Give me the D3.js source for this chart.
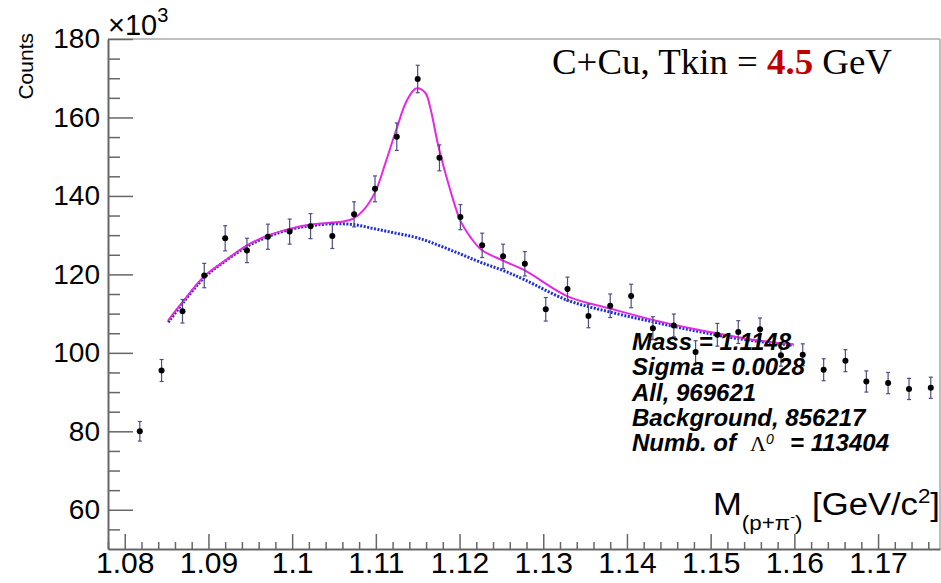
<!DOCTYPE html>
<html>
<head>
<meta charset="utf-8">
<script src="https://cdn.jsdelivr.net/npm/d3@7"></script>
<style>
  body { margin: 0; background: #fff; }
  svg { display: block; }
</style>
</head>
<body>
<svg id="chart"></svg>
<script>
// Invariant mass histogram (counts in thousands)
const massBins = [1.0818, 1.0844, 1.0869, 1.0895, 1.0920, 1.0946, 1.0971, 1.0997, 1.1022, 1.1048,
  1.1074, 1.1099, 1.1125, 1.1150, 1.1176, 1.1201, 1.1227, 1.1252, 1.1278, 1.1303,
  1.1329, 1.1354, 1.1380, 1.1405, 1.1431, 1.1456, 1.1482, 1.1508, 1.1533, 1.1559,
  1.1584, 1.1610, 1.1635, 1.1661, 1.1686, 1.1712, 1.1737, 1.1763];
const counts = [80.0, 95.5, 110.6, 119.7, 129.2, 126.1, 129.6, 130.9, 132.3, 129.8,
  135.3, 141.8, 155.1, 169.8, 149.7, 134.6, 127.4, 124.6, 122.7, 111.1,
  116.3, 109.4, 112.0, 114.5, 106.3, 107.0, 100.2, 104.6, 105.3, 106.0,
  99.4, 99.5, 95.7, 98.0, 92.7, 92.3, 90.8, 91.1];
const countErr = [2.5, 2.8, 3.0, 3.1, 3.2, 3.1, 3.2, 3.2, 3.2, 3.2,
  3.2, 3.3, 3.5, 3.5, 3.3, 3.2, 3.1, 3.1, 3.1, 3.0,
  3.0, 3.0, 3.0, 3.0, 2.9, 2.9, 2.9, 2.9, 2.9, 2.9,
  2.8, 2.8, 2.8, 2.8, 2.7, 2.7, 2.7, 2.7];

// total fit (signal + background)
const fitMass = [1.0852, 1.0869, 1.0895, 1.0920, 1.0946, 1.0971, 1.0997, 1.1022, 1.1048, 1.1061,
  1.1073, 1.1085, 1.1099, 1.1111, 1.1124, 1.1137, 1.1148, 1.1159, 1.1165, 1.1175,
  1.1189, 1.1201, 1.1213, 1.1226, 1.1252, 1.1278, 1.1329, 1.1380, 1.1431, 1.1482,
  1.1533, 1.1559, 1.1599];
const fitVal = [108.3, 112.9, 119.5, 123.5, 127.4, 129.9, 131.6, 132.7, 133.2, 133.5,
  134.2, 136.3, 140.9, 148.1, 156.6, 164.3, 167.4, 166.3, 162.5, 152.4,
  141.4, 133.7, 129.5, 126.3, 123.5, 121.0, 114.4, 111.3, 108.4, 106.0,
  104.0, 103.1, 102.2];

// background only
const bgMass = [1.0852, 1.0869, 1.0895, 1.0920, 1.0946, 1.0971, 1.0997, 1.1022, 1.1048, 1.1073,
  1.1099, 1.1124, 1.1150, 1.1175, 1.1201, 1.1226, 1.1252, 1.1278, 1.1329, 1.1380,
  1.1431, 1.1482, 1.1533, 1.1599];
const bgVal = [107.8, 112.6, 119.2, 123.4, 127.1, 129.6, 131.4, 132.4, 132.9, 132.7,
  131.6, 130.5, 129.3, 127.4, 125.2, 123.0, 121.0, 118.6, 113.4, 110.4,
  107.9, 105.6, 103.6, 101.9];

const xMajorTicks = [1.08, 1.09, 1.1, 1.11, 1.12, 1.13, 1.14, 1.15, 1.16, 1.17];
const yMajorTicks = [60, 80, 100, 120, 140, 160, 180];

const statsLines = ['Mass = 1.1148', 'Sigma = 0.0028', 'All, 969621', 'Background, 856217'];

const W = 941, H = 583;
const padL = 108, padR = 940, padT = 39, padB = 549;

const svg = d3.select('#chart').attr('width', W).attr('height', H);

const x = d3.scaleLinear().domain([1.078, 1.1774]).range([padL, padR]);
const y = d3.scaleLinear().domain([50, 180]).range([padB, padT]);

const sans = "'Liberation Sans', Arial, Helvetica, sans-serif";
const serif = "'Liberation Serif', 'DejaVu Serif', serif";

// Frame top/right (light)
svg.append('line').attr('x1', padL).attr('x2', padR).attr('y1', padT).attr('y2', padT)
  .attr('stroke', '#aaa').attr('stroke-width', 1.5);
svg.append('line').attr('x1', padR).attr('x2', padR).attr('y1', padT).attr('y2', padB)
  .attr('stroke', '#aaa').attr('stroke-width', 1.5);

// Minor ticks
const yMinor = d3.range(55, 180, 5).filter(v => v % 20 !== 0);
const xMinor = d3.range(1.078, 1.1774, 0.002).filter(v => Math.abs(v * 100 - Math.round(v * 100)) > 1e-6);

svg.append('g').attr('transform', `translate(${padL},0)`)
  .call(d3.axisLeft(y).tickValues(yMinor).tickSize(-12).tickSizeOuter(0).tickFormat(''))
  .call(g => g.select('.domain').remove())
  .selectAll('line').attr('stroke', '#666').attr('stroke-width', 1.5);
svg.append('g').attr('transform', `translate(0,${padB})`)
  .call(d3.axisBottom(x).tickValues(xMinor).tickSize(-7).tickSizeOuter(0).tickFormat(''))
  .call(g => g.select('.domain').remove())
  .selectAll('line').attr('stroke', '#666').attr('stroke-width', 1.5);

// Major axes
const yAxisG = svg.append('g').attr('transform', `translate(${padL},0)`)
  .call(d3.axisLeft(y).tickValues(yMajorTicks).tickSize(-25).tickSizeOuter(0).tickPadding(8));
yAxisG.select('.domain').attr('stroke', '#666').attr('stroke-width', 2);
yAxisG.selectAll('line').attr('stroke', '#666').attr('stroke-width', 1.5);
yAxisG.selectAll('text').attr('font-family', sans).attr('font-size', 28).attr('fill', '#000');

const xAxisG = svg.append('g').attr('transform', `translate(0,${padB})`)
  .call(d3.axisBottom(x).tickValues(xMajorTicks).tickSize(-15).tickSizeOuter(0).tickPadding(3)
    .tickFormat(d => String(+d.toFixed(2))));
xAxisG.select('.domain').attr('stroke', '#666').attr('stroke-width', 2);
xAxisG.selectAll('line').attr('stroke', '#666').attr('stroke-width', 1.5);
xAxisG.selectAll('text').attr('font-family', sans).attr('font-size', 30).attr('fill', '#000');

// x10^3
const mult = svg.append('text').attr('x', padL).attr('y', 35)
  .attr('font-family', sans).attr('font-size', 29).attr('fill', '#000');
mult.append('tspan').text('\u00d710');
mult.append('tspan').attr('font-size', 20).attr('dy', -13).text('3');

// Y title
svg.append('text')
  .attr('transform', 'translate(33,33) rotate(-90)')
  .attr('text-anchor', 'end')
  .attr('font-family', sans).attr('font-size', 21).attr('fill', '#000')
  .text('Counts');

// X title
const xt = svg.append('text').attr('x', 713).attr('y', 515)
  .attr('font-family', sans).attr('font-size', 31).attr('fill', '#000')
  .attr('textLength', 227).attr('lengthAdjust', 'spacingAndGlyphs');
xt.append('tspan').text('M');
xt.append('tspan').attr('font-size', 20).attr('dy', 15).text('(p+\u03c0');
xt.append('tspan').attr('font-size', 13).attr('dy', -9).text('-');
xt.append('tspan').attr('font-size', 20).attr('dy', 9).text(')');
xt.append('tspan').attr('dy', -15).text(' [GeV/c');
xt.append('tspan').attr('font-size', 20).attr('dy', -12).text('2');
xt.append('tspan').attr('dy', 12).text(']');

// Title
const tt = svg.append('text').attr('x', 552).attr('y', 74)
  .attr('font-family', serif).attr('font-size', 36).attr('fill', '#000')
  .attr('textLength', 340).attr('lengthAdjust', 'spacingAndGlyphs');
tt.append('tspan').text('C+Cu, Tkin = ');
tt.append('tspan').attr('fill', '#c00000').attr('font-weight', 'bold').text('4.5');
tt.append('tspan').text(' GeV');

// Background curve (dotted blue)
const line = d3.line().curve(d3.curveCatmullRom.alpha(0.5));
svg.append('path')
  .attr('d', line(bgMass.map((m, i) => [x(m), y(bgVal[i])])))
  .attr('fill', 'none').attr('stroke', '#1f2fd8').attr('stroke-width', 3)
  .attr('stroke-dasharray', '2,1.5');

// Total fit (magenta)
svg.append('path')
  .attr('d', line(fitMass.map((m, i) => [x(m), y(fitVal[i])])))
  .attr('fill', 'none').attr('stroke', '#e628e6').attr('stroke-width', 2);

// Error bars + points
const pts = svg.append('g');
massBins.forEach((m, i) => {
  const cx = x(m);
  const y1 = y(counts[i] + countErr[i]);
  const y2 = y(counts[i] - countErr[i]);
  pts.append('line').attr('x1', cx).attr('x2', cx).attr('y1', y1).attr('y2', y2)
    .attr('stroke', '#4d4d85').attr('stroke-width', 1.2);
  [y1, y2].forEach(yy => pts.append('line')
    .attr('x1', cx - 2).attr('x2', cx + 2).attr('y1', yy).attr('y2', yy)
    .attr('stroke', '#4d4d85').attr('stroke-width', 1.2));
  pts.append('circle').attr('cx', cx).attr('cy', y(counts[i])).attr('r', 3).attr('fill', '#000');
});

// Stats text
const stats = svg.append('g').attr('font-family', sans).attr('font-size', 24)
  .attr('font-weight', 'bold').attr('font-style', 'italic').attr('fill', '#000');
statsLines.forEach((s, i) => {
  stats.append('text').attr('x', 632).attr('y', 350 + i * 25.3).text(s);
});
const last = stats.append('text').attr('x', 632).attr('y', 451);
last.append('tspan').text('Numb. of ');
last.append('tspan').attr('x', 750).attr('font-family', serif).attr('font-weight', 'normal')
  .attr('font-style', 'normal').attr('font-size', 22).text('\u039b');
last.append('tspan').attr('dy', -7).attr('font-weight', 'normal').attr('font-size', 14).text('0');
last.append('tspan').attr('x', 790).attr('dy', 7).text('= 113404');
</script>
</body>
</html>
